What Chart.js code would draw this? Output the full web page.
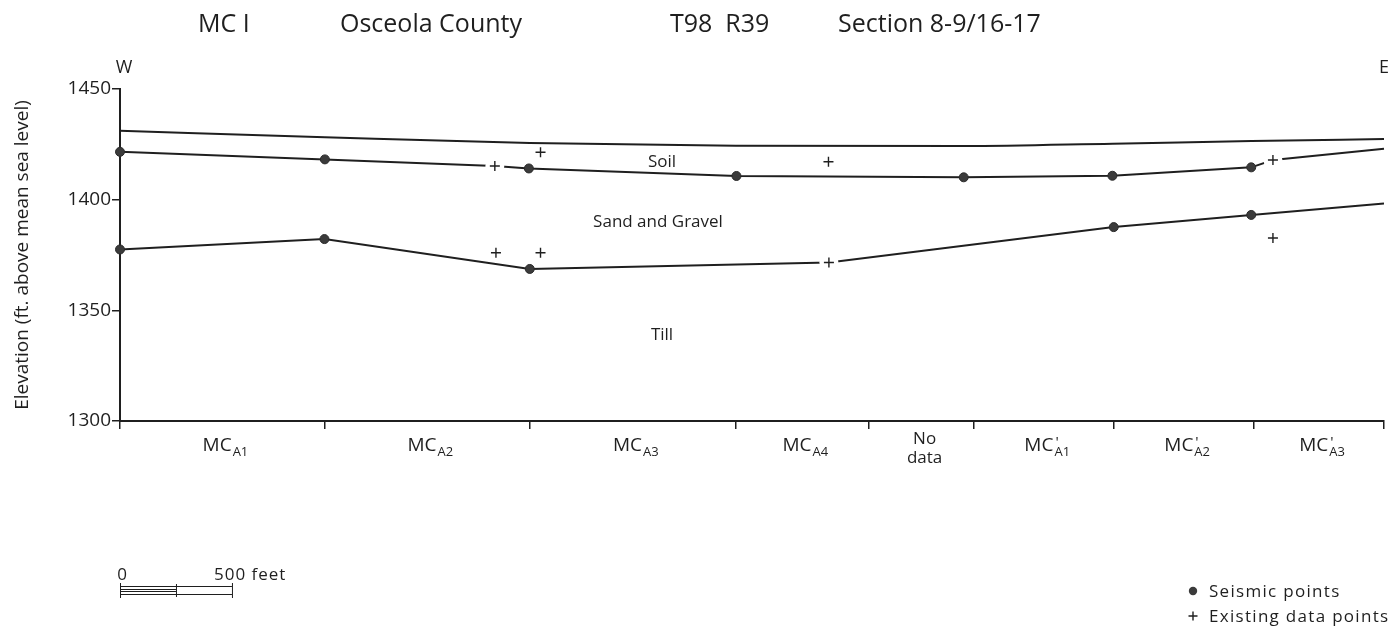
<!DOCTYPE html>
<html>
<head>
<meta charset="utf-8">
<script src="https://cdn.jsdelivr.net/npm/chart.js@4.4.1/dist/chart.umd.min.js"></script>
<style>
  html, body { margin: 0; padding: 0; background: #fff; }
  #wrap { width: 1397px; height: 633px; position: relative; }
</style>
</head>
<body>
<div id="wrap"><canvas id="c"></canvas></div>
<script>
// Distance along the section (feet from the west end) and elevation (ft above MSL)

// Section boundaries along the profile and their names
const sectionBounds = [0, 915, 1830, 2750, 3345, 3815, 4440, 5065, 5645];
const sectionNames = ['MC|A1', 'MC|A2', 'MC|A3', 'MC|A4', 'No data', "MC'|A1", "MC'|A2", "MC'|A3"];

// Ground surface
const groundX = [0, 915, 1830, 2750, 3768, 4433, 5054, 5645];
const groundElev = [1431.1, 1428.2, 1425.6, 1424.4, 1424.2, 1425.3, 1426.5, 1427.4];

// Base of soil (s = seismic point, e = existing data point, '' = line end)
const soilX = [0, 915, 1674, 1826, 2753, 3768, 4432, 5052, 5149, 5645];
const soilElev = [1421.6, 1418.2, 1415.2, 1414.1, 1410.7, 1410.1, 1410.8, 1414.6, 1417.9, 1423.0];
const soilKind = ['s', 's', 'e', 's', 's', 's', 's', 's', 'e', ''];

// Top of till (base of sand and gravel)
const tillX = [0, 913, 1830, 3166, 4438, 5052, 5645];
const tillElev = [1377.5, 1382.2, 1368.7, 1371.6, 1387.6, 1393.1, 1398.3];
const tillKind = ['s', 's', 's', 'e', 's', 's', ''];

// Existing data points that sit off the interpreted lines
const extraX = [1878, 3164, 1679, 1878, 5149];
const extraElev = [1421.4, 1417.1, 1376.0, 1376.0, 1382.7];

// Y tick values
const elevTicks = [1300, 1350, 1400, 1450];

const INK = '#1f1f1f';
const FONT = "'Open Sans', 'DejaVu Sans', sans-serif";

const pts = (xs, ys) => xs.map((x, i) => ({ x: x, y: ys[i] }));
const pick = (xs, ys, kinds, k) => xs.map((x, i) => ({ x: x, y: ys[i], k: kinds[i] })).filter(p => p.k === k);

const soilPts = pts(soilX, soilElev);
const tillPts = pts(tillX, tillElev);
const existingOnLines = pick(soilX, soilElev, soilKind, 'e').concat(pick(tillX, tillElev, tillKind, 'e'));
const existingAll = existingOnLines.concat(pts(extraX, extraElev));

function seismicRadius(kinds) {
  return ctx => (kinds[ctx.dataIndex] === 's' ? 4.5 : 0);
}

const lineBase = {
  borderColor: INK,
  borderWidth: 2,
  pointBackgroundColor: '#3b3b3b',
  pointBorderColor: '#2a2a2a',
  pointBorderWidth: 1,
  pointHoverRadius: 0,
  fill: false,
  clip: false,
  order: 3
};

function spaced(c, text, x, y, spacing) {
  c.letterSpacing = spacing + 'px';
  c.fillText(text, x, y);
  c.letterSpacing = '0px';
}

// Text, section labels, scale bar and key
const annotations = {
  id: 'annotations',
  afterDraw(chart) {
    const c = chart.ctx;
    const xs = chart.scales.x;
    c.save();
    c.fillStyle = INK;
    c.textBaseline = 'alphabetic';

    // Heading
    c.font = '25px ' + FONT;
    c.textAlign = 'left';
    c.fillText('MC I', 198, 32);
    c.fillText('Osceola County', 340, 32);
    c.fillText('T98  R39', 670, 32);
    c.fillText('Section 8-9/16-17', 838, 32);

    // Compass ends
    c.font = '18px ' + FONT;
    c.textAlign = 'center';
    c.fillText('W', xs.getPixelForValue(sectionBounds[0]) + 4, 73);
    c.fillText('E', xs.getPixelForValue(sectionBounds[sectionBounds.length - 1]), 73);

    // Unit names
    c.font = '17px ' + FONT;
    c.fillText('Soil', 662, 167);
    c.fillText('Sand and Gravel', 658, 227);
    c.fillText('Till', 662, 340);

    // Section names under the axis
    for (let i = 0; i < sectionNames.length; i++) {
      const mid = (xs.getPixelForValue(sectionBounds[i]) + xs.getPixelForValue(sectionBounds[i + 1])) / 2 + 3;
      const name = sectionNames[i];
      if (name.indexOf('|') < 0) {
        const words = name.split(' ');
        c.font = '17px ' + FONT;
        c.textAlign = 'center';
        c.fillText(words[0], mid, 444);
        c.fillText(words[1], mid, 463);
        continue;
      }
      let [main, sub] = name.split('|');
      const prime = main.endsWith("'");
      if (prime) main = main.slice(0, -1);
      c.font = '19px ' + FONT;
      const wMain = c.measureText(main).width;
      c.font = '13px ' + FONT;
      const wSub = c.measureText(sub).width;
      const x0 = mid - (wMain + wSub + 1) / 2;
      c.textAlign = 'left';
      c.font = '19px ' + FONT;
      c.fillText(main, x0, 451);
      c.font = '13px ' + FONT;
      c.fillText(sub, x0 + wMain + 1, 456);
      if (prime) {
        c.font = '15px ' + FONT;
        c.fillText("'", x0 + wMain + 2, 447);
      }
    }

    // Scale bar: 0 - 500 feet
    const b0 = xs.getPixelForValue(0);
    const b1 = xs.getPixelForValue(250);
    const b2 = xs.getPixelForValue(500);
    c.strokeStyle = INK;
    c.lineWidth = 1;
    c.beginPath();
    c.moveTo(b0, 586.5); c.lineTo(b2, 586.5);
    c.moveTo(b0, 594.5); c.lineTo(b2, 594.5);
    c.moveTo(b0, 589.5); c.lineTo(b1, 589.5);
    c.moveTo(b0, 591.5); c.lineTo(b1, 591.5);
    c.moveTo(b0 + 0.5, 583); c.lineTo(b0 + 0.5, 598);
    c.moveTo(b1 + 0.5, 584); c.lineTo(b1 + 0.5, 597);
    c.moveTo(b2 + 0.5, 583); c.lineTo(b2 + 0.5, 598);
    c.stroke();
    c.font = '17px ' + FONT;
    c.textAlign = 'center';
    c.fillText('0', b0 + 2, 580);
    c.textAlign = 'left';
    spaced(c, '500 feet', b2 - 18, 580, 1);

    // Key
    c.fillStyle = '#3b3b3b';
    c.beginPath();
    c.arc(1193, 591, 4.2, 0, Math.PI * 2);
    c.fill();
    c.strokeStyle = INK;
    c.lineWidth = 1.4;
    c.beginPath();
    c.moveTo(1188.5, 616); c.lineTo(1197.5, 616);
    c.moveTo(1193, 611.5); c.lineTo(1193, 620.5);
    c.stroke();
    c.fillStyle = INK;
    c.font = '17px ' + FONT;
    spaced(c, 'Seismic points', 1209, 597, 1.3);
    spaced(c, 'Existing data points', 1209, 622, 1.3);

    c.restore();
  }
};

new Chart(document.getElementById('c'), {
  type: 'line',
  data: {
    datasets: [
      Object.assign({}, lineBase, {
        label: 'Ground surface',
        data: pts(groundX, groundElev),
        pointRadius: 0,
        cubicInterpolationMode: 'monotone'
      }),
      Object.assign({}, lineBase, {
        label: 'Base of soil',
        data: soilPts,
        pointRadius: seismicRadius(soilKind)
      }),
      Object.assign({}, lineBase, {
        label: 'Top of till',
        data: tillPts,
        pointRadius: seismicRadius(tillKind)
      }),
      {
        label: 'gap',
        data: existingOnLines,
        showLine: false,
        pointStyle: 'circle',
        pointRadius: 9.5,
        pointBackgroundColor: '#ffffff',
        pointBorderColor: '#ffffff',
        pointBorderWidth: 0,
        pointHoverRadius: 0,
        order: 2
      },
      {
        label: 'Existing data points',
        data: existingAll,
        showLine: false,
        pointStyle: 'cross',
        pointRadius: 5,
        pointBorderColor: INK,
        pointBorderWidth: 1.4,
        pointHoverRadius: 0,
        clip: false,
        order: 1
      }
    ]
  },
  options: {
    responsive: true,
    maintainAspectRatio: false,
    animation: false,
    events: [],
    layout: { padding: { left: 0, right: 13, top: 89, bottom: 202 } },
    plugins: {
      legend: { display: false },
      tooltip: { enabled: false },
      title: { display: false }
    },
    scales: {
      x: {
        type: 'linear',
        min: sectionBounds[0],
        max: sectionBounds[sectionBounds.length - 1],
        afterBuildTicks: s => { s.ticks = sectionBounds.map(v => ({ value: v })); },
        afterFit: s => { s.height = 10; },
        ticks: { display: false },
        grid: { drawOnChartArea: false, drawTicks: true, tickLength: 8, color: INK, lineWidth: 1.5 },
        border: { display: true, color: INK, width: 2 }
      },
      y: {
        type: 'linear',
        min: elevTicks[0],
        max: elevTicks[elevTicks.length - 1],
        afterBuildTicks: s => { s.ticks = elevTicks.map(v => ({ value: v })); },
        afterFit: s => { s.width = 120; },
        ticks: {
          color: INK,
          padding: 1,
          font: { family: FONT, size: 19 },
          callback: v => String(v)
        },
        grid: { drawOnChartArea: false, drawTicks: true, tickLength: 8, color: INK, lineWidth: 1.5 },
        border: { display: true, color: INK, width: 2 },
        title: {
          display: true,
          text: 'Elevation (ft. above mean sea level)',
          color: INK,
          font: { family: FONT, size: 19 },
          padding: { top: 11, bottom: 0 }
        }
      }
    }
  },
  plugins: [annotations]
});
</script>
</body>
</html>
